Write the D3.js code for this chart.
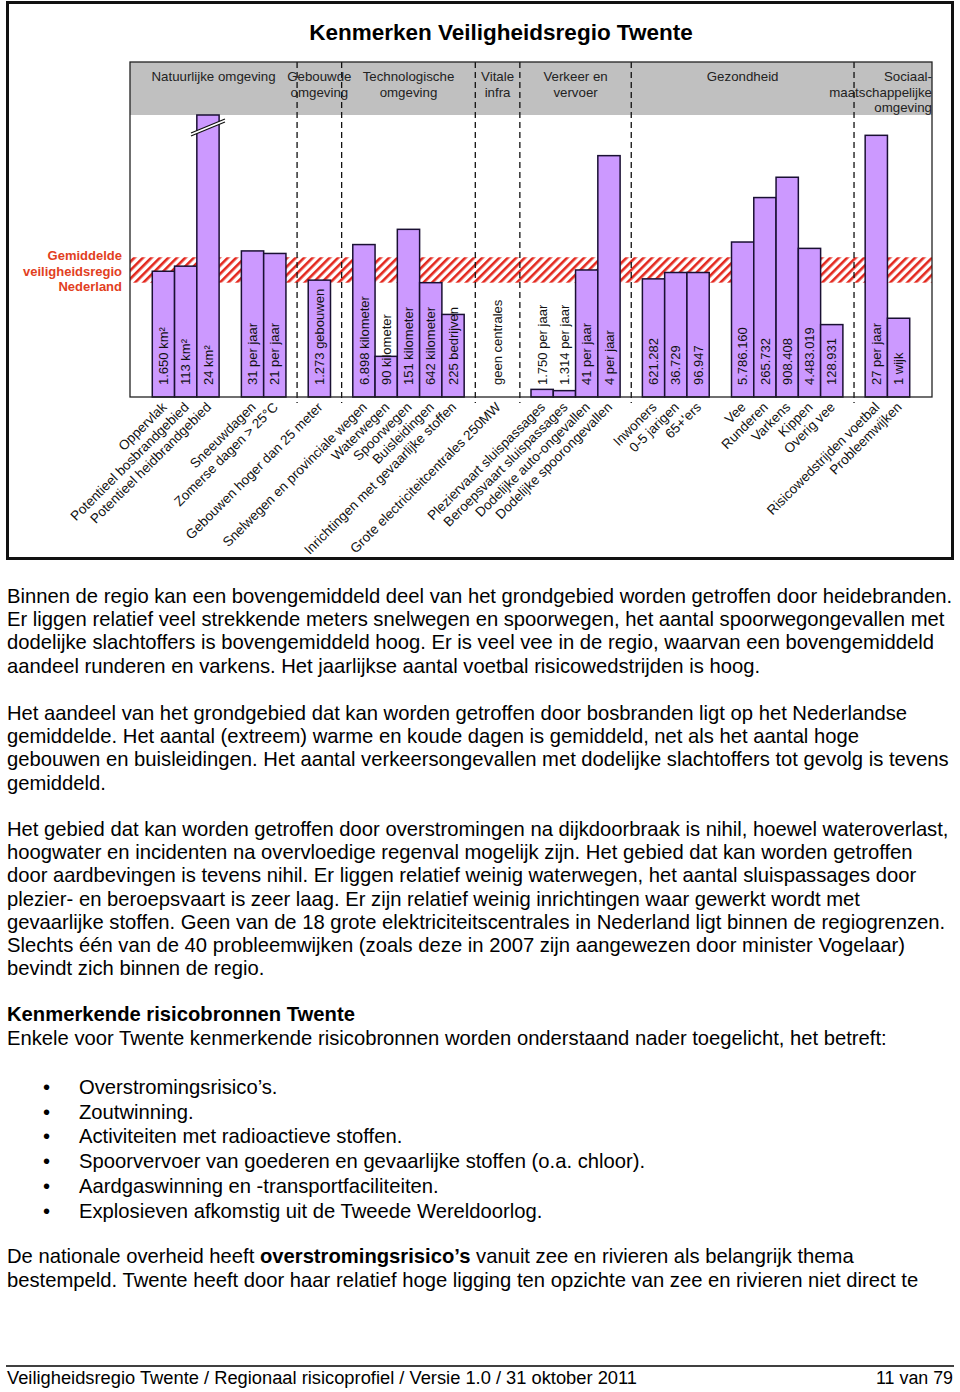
<!DOCTYPE html>
<html><head><meta charset="utf-8">
<script src="https://cdn.jsdelivr.net/npm/d3@7"></script>
<style>body{margin:0;background:#fff}svg{display:block}text{font-family:Arial,"Liberation Sans",sans-serif}</style>
</head><body><svg id="c" width="960" height="1392"></svg>
<script>
// ---- data ----
const categories = ["", "Oppervlak", "Potentieel bosbrandgebied", "Potentieel heidbrandgebied", "", "Sneeuwdagen", "Zomerse dagen > 25°C", "", "Gebouwen hoger dan 25 meter", "", "Snelwegen en provinciale wegen", "Waterwegen", "Spoorwegen", "Buisleidingen", "Inrichtingen met gevaarlijke stoffen", "", "Grote electriciteitcentrales 250MW", "", "Pleziervaart sluispassages", "Beroepsvaart sluispassages", "Dodelijke auto-ongevallen", "Dodelijke spoorongevallen", "", "Inwoners", "0-5 jarigen", "65+'ers", "", "Vee", "Runderen", "Varkens", "Kippen", "Overig vee", "", "Risicowedstrijden voetbal", "Probleemwijken", ""];
// index relative to the average safety region (1 = average); 3.0 = off scale (broken bar)
const values = [null, 0.99, 1.03, 3.0, null, 1.15, 1.13, null, 0.92, null, 1.20, 0.32, 1.32, 0.90, 0.65, null, 0, null, 0.06, 0.05, 1.00, 1.90, null, 0.93, 0.98, 0.98, null, 1.22, 1.57, 1.73, 1.17, 0.57, null, 2.06, 0.62, null];
const valueLabels = ["", "1.650 km²", "113 km²", "24 km²", "", "31 per jaar", "21 per jaar", "", "1.273 gebouwen", "", "6.898 kilometer", "90 kilometer", "151 kilometer", "642 kilometer", "225 bedrijven", "", "geen centrales", "", "1.750 per jaar", "1.314 per jaar", "41 per jaar", "4 per jaar", "", "621.282", "36.729", "96.947", "", "5.786.160", "265.732", "908.408", "4.483.019", "128.931", "", "27 per jaar", "1 wijk", ""];
const groupNames = [["Natuurlijke omgeving"], ["Gebouwde", "omgeving"], ["Technologische", "omgeving"], ["Vitale", "infra"], ["Verkeer en", "vervoer"], ["Gezondheid"], ["Sociaal-", "maatschappelijke", "omgeving"]];
const groupStarts = [0, 7, 9, 15, 17, 22, 32];
const groupEnds = [7, 9, 15, 17, 22, 32, 36];
const dividerSlots = [7, 9, 15, 17, 22, 32];
const averageBand = [0.9, 1.1];
const averageLabel = ["Gemiddelde", "veiligheidsregio", "Nederland"];
const title = "Kenmerken Veiligheidsregio Twente";

const paragraphs = [
 {y:603, lines:["Binnen de regio kan een bovengemiddeld deel van het grondgebied worden getroffen door heidebranden.","Er liggen relatief veel strekkende meters snelwegen en spoorwegen, het aantal spoorwegongevallen met","dodelijke slachtoffers is bovengemiddeld hoog. Er is veel vee in de regio, waarvan een bovengemiddeld","aandeel runderen en varkens. Het jaarlijkse aantal voetbal risicowedstrijden is hoog."]},
 {y:720, lines:["Het aandeel van het grondgebied dat kan worden getroffen door bosbranden ligt op het Nederlandse","gemiddelde. Het aantal (extreem) warme en koude dagen is gemiddeld, net als het aantal hoge","gebouwen en buisleidingen. Het aantal verkeersongevallen met dodelijke slachtoffers tot gevolg is tevens","gemiddeld."]},
 {y:836, lines:["Het gebied dat kan worden getroffen door overstromingen na dijkdoorbraak is nihil, hoewel wateroverlast,","hoogwater en incidenten na overvloedige regenval mogelijk zijn. Het gebied dat kan worden getroffen","door aardbevingen is tevens nihil. Er liggen relatief weinig waterwegen, het aantal sluispassages door","plezier- en beroepsvaart is zeer laag. Er zijn relatief weinig inrichtingen waar gewerkt wordt met","gevaarlijke stoffen. Geen van de 18 grote elektriciteitscentrales in Nederland ligt binnen de regiogrenzen.","Slechts één van de 40 probleemwijken (zoals deze in 2007 zijn aangewezen door minister Vogelaar)","bevindt zich binnen de regio."]}
];
const bullets = ["Overstromingsrisico’s.","Zoutwinning.","Activiteiten met radioactieve stoffen.","Spoorvervoer van goederen en gevaarlijke stoffen (o.a. chloor).","Aardgaswinning en -transportfaciliteiten.","Explosieven afkomstig uit de Tweede Wereldoorlog."];

// ---- chart ----
const svg = d3.select("#c");
const L = 130, R = 932, T = 115, HT = 62, B = 397;
const x = d3.scaleBand().domain(d3.range(categories.length)).range([L, R]).padding(0);
const y = d3.scaleLinear().domain([0, 2.22]).range([B, T]);
const purple = "#cc99ff", barStroke = "#1a1033";

// outer frame
svg.append("rect").attr("x", 7.5).attr("y", 2.5).attr("width", 945).attr("height", 556)
  .attr("fill", "none").attr("stroke", "#111").attr("stroke-width", 3);

svg.append("text").attr("x", 501).attr("y", 40).attr("text-anchor", "middle")
  .attr("font-size", 22.5).attr("font-weight", "bold").text(title);

// header band
svg.append("rect").attr("x", L).attr("y", HT).attr("width", R - L).attr("height", T - HT).attr("fill", "#c0c0c0");

// hatch pattern
const defs = svg.append("defs");
const pat = defs.append("pattern").attr("id", "hatch").attr("patternUnits", "userSpaceOnUse")
  .attr("width", 6).attr("height", 6).attr("patternTransform", "rotate(45)");
pat.append("rect").attr("width", 6).attr("height", 6).attr("fill", "#fff");
pat.append("rect").attr("width", 2.6).attr("height", 6).attr("fill", "#e3281e");
svg.append("rect").attr("x", L).attr("y", y(averageBand[1])).attr("width", R - L)
  .attr("height", y(averageBand[0]) - y(averageBand[1])).attr("fill", "url(#hatch)");

// dividers
svg.selectAll("line.div").data(dividerSlots).join("line")
  .attr("x1", d => x(d) + x.bandwidth() / 2).attr("x2", d => x(d) + x.bandwidth() / 2)
  .attr("y1", HT).attr("y2", B + 6).attr("stroke", "#111").attr("stroke-width", 1.3)
  .attr("stroke-dasharray", "6,4");

// bars
const idx = d3.range(categories.length).filter(i => values[i] !== null && values[i] > 0);
svg.selectAll("rect.bar").data(idx).join("rect")
  .attr("x", i => x(i)).attr("width", x.bandwidth())
  .attr("y", i => Math.max(T, y(values[i]))).attr("height", i => B - Math.max(T, y(values[i])))
  .attr("fill", purple).attr("stroke", barStroke).attr("stroke-width", 1.5);

// break marks on off-scale bars
idx.filter(i => y(values[i]) < T).forEach(i => {
  const cx = x(i) + x.bandwidth() / 2, cy = T + 10;
  const g = svg.append("g");
  g.append("polygon").attr("points", `${cx-17},${cy+8} ${cx+17},${cy-6} ${cx+17},${cy-3} ${cx-17},${cy+11}`)
    .attr("fill", "#fff");
  g.append("line").attr("x1", cx - 17).attr("y1", cy + 8).attr("x2", cx + 17).attr("y2", cy - 6).attr("stroke", "#111").attr("stroke-width", 1.2);
  g.append("line").attr("x1", cx - 17).attr("y1", cy + 11).attr("x2", cx + 17).attr("y2", cy - 3).attr("stroke", "#111").attr("stroke-width", 1.2);
});

// plot frame
svg.append("rect").attr("x", L).attr("y", HT).attr("width", R - L).attr("height", B - HT)
  .attr("fill", "none").attr("stroke", "#222").attr("stroke-width", 1.3);

// header labels
groupNames.forEach((lines, gi) => {
  const last = gi === groupNames.length - 1;
  const xs = last ? R : (x(groupStarts[gi]) + x(groupEnds[gi])) / 2 + (gi === 0 ? x.bandwidth() / 4 : x.bandwidth() / 2);
  const t = svg.append("text").attr("text-anchor", last ? "end" : "middle").attr("font-size", 13.3).attr("fill", "#222");
  lines.forEach((ln, k) => t.append("tspan").attr("x", xs).attr("y", 81 + k * 15.5).text(ln));
});

// average legend
const lg = svg.append("text").attr("text-anchor", "end").attr("font-size", 13).attr("font-weight", "bold").attr("fill", "#e2401e");
averageLabel.forEach((ln, k) => lg.append("tspan").attr("x", 122).attr("y", 260 + k * 15.5).text(ln));

// value labels (vertical)
svg.selectAll("text.val").data(d3.range(categories.length).filter(i => valueLabels[i])).join("text")
  .attr("transform", i => `translate(${x(i) + x.bandwidth() / 2},385) rotate(-90)`)
  .attr("dy", "0.36em").attr("font-size", 13).attr("fill", "#111").text(i => valueLabels[i]);

// category labels (diagonal)
svg.selectAll("text.cat").data(d3.range(categories.length).filter(i => categories[i])).join("text")
  .attr("transform", i => `translate(${x(i) + x.bandwidth() / 2 + 4},408) rotate(-45)`)
  .attr("text-anchor", "end").attr("font-size", 13.5).attr("fill", "#111").text(i => categories[i]);

// ---- page text ----
const probe = svg.append("text").attr("font-size", 18).text(paragraphs[0].lines[0]);
const fs = 18 * 946 / probe.node().getComputedTextLength();
probe.remove();

paragraphs.forEach(p => p.lines.forEach((ln, k) => {
  svg.append("text").attr("x", 7).attr("y", p.y + k * 23.2).attr("font-size", fs).text(ln);
}));
svg.append("text").attr("x", 7).attr("y", 1021).attr("font-size", fs).attr("font-weight", "bold").text("Kenmerkende risicobronnen Twente");
svg.append("text").attr("x", 7).attr("y", 1045).attr("font-size", fs).text("Enkele voor Twente kenmerkende risicobronnen worden onderstaand nader toegelicht, het betreft:");
bullets.forEach((b, k) => {
  const yy = 1094 + k * 24.7;
  svg.append("text").attr("x", 43).attr("y", yy).attr("font-size", fs).text("•");
  svg.append("text").attr("x", 79).attr("y", yy).attr("font-size", fs).text(b);
});
const t1 = svg.append("text").attr("x", 7).attr("y", 1263).attr("font-size", fs);
t1.append("tspan").text("De nationale overheid heeft ");
t1.append("tspan").attr("font-weight", "bold").text("overstromingsrisico’s");
t1.append("tspan").text(" vanuit zee en rivieren als belangrijk thema");
svg.append("text").attr("x", 7).attr("y", 1287).attr("font-size", fs).text("bestempeld. Twente heeft door haar relatief hoge ligging ten opzichte van zee en rivieren niet direct te");

// footer
svg.append("line").attr("x1", 6).attr("x2", 954).attr("y1", 1366).attr("y2", 1366).attr("stroke", "#000").attr("stroke-width", 1.5);
svg.append("text").attr("x", 7).attr("y", 1384).attr("font-size", 18).attr("textLength", 630)
  .attr("lengthAdjust", "spacingAndGlyphs").text("Veiligheidsregio Twente / Regionaal risicoprofiel / Versie 1.0 / 31 oktober 2011");
svg.append("text").attr("x", 876).attr("y", 1384).attr("font-size", 18).attr("textLength", 77)
  .attr("lengthAdjust", "spacingAndGlyphs").text("11 van 79");
</script></body></html>
